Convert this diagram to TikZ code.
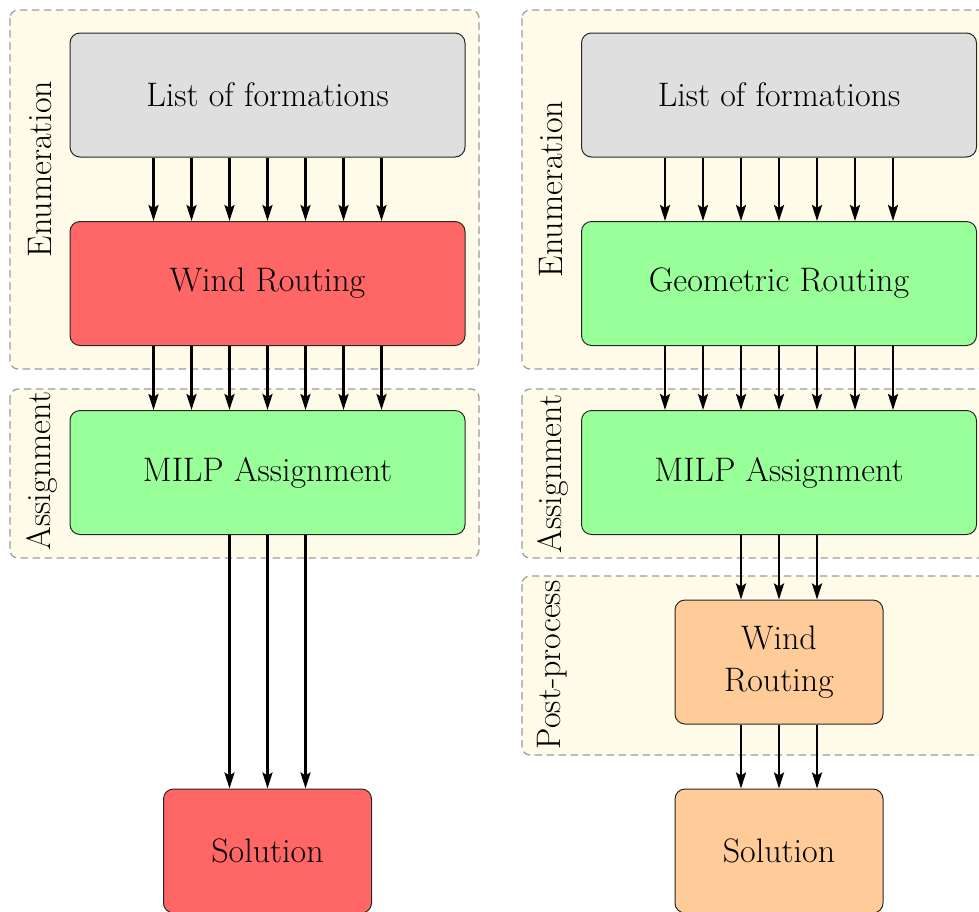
\documentclass[tikz,border=0pt]{standalone}
\usetikzlibrary{arrows.meta}
\definecolor{grpbg}{RGB}{255,251,233}
\definecolor{grpline}{RGB}{155,155,155}
\begin{document}
\begin{tikzpicture}[x=0.5pt,y=-0.5pt,
  every node/.style={font=\fontsize{17}{21}\selectfont},
  box/.style={draw=black!85,line width=0.5pt,rounded corners=5pt,inner sep=0pt,
    minimum width=197.5pt,minimum height=62pt,align=center},
  smallbox/.style={box,minimum width=104pt},
  grp/.style={draw=grpline,fill=grpbg,dash pattern=on 3.75pt off 2.25pt,line width=0.6pt,rounded corners=4pt},
  grplabel/.style={rotate=90,anchor=base,inner sep=0pt},
  flow/.style={line width=1.35pt,-{Stealth[length=8pt,width=5pt,inset=1.5pt]}}]
\path[use as bounding box,clip] (0,0) rectangle (979,911);
% groups
\draw[grp] (10,10) rectangle (479,369);
\draw[grp] (10,389) rectangle (479,558);
\draw[grp] (522,10) rectangle (991,369);
\draw[grp] (522,389) rectangle (991,558);
\draw[grp] (522,576) rectangle (991,755);
\node[grplabel] (lenum) at (51,169) {Enumeration};
\node[grplabel] (lassign) at (50,471) {Assignment};
\node[grplabel] (renum) at (562,189) {Enumeration};
\node[grplabel] (rassign) at (561,474) {Assignment};
\node[grplabel] (rpost) at (560,665) {Post-process};
% left column
\node[box,fill=gray!25] (list) at (267.5,95) {List of formations};
\node[box,fill=red!60] (wind) at (267.5,283.5) {Wind Routing};
\node[box,fill=green!40] (milp) at (267.5,472.5) {MILP Assignment};
\node[smallbox,fill=red!60] (sol) at (267.5,851) {Solution};
% right column
\node[box,fill=gray!25] (list2) at (779,95) {List of formations};
\node[box,fill=green!40] (geo) at (779,283.5) {Geometric Routing};
\node[box,fill=green!40] (milp2) at (779,472.5) {MILP Assignment};
\node[smallbox,fill=orange!40] (wind2) at (779,662) {Wind\\Routing};
\node[smallbox,fill=orange!40] (sol2) at (779,851) {Solution};
% arrows
\foreach \d in {-57,-38,-19,0,19,38,57}{
  \draw[flow] ([xshift=\d pt]list.south) -- ([xshift=\d pt]wind.north);
  \draw[flow] ([xshift=\d pt]wind.south) -- ([xshift=\d pt]milp.north);
  \draw[flow] ([xshift=\d pt]list2.south) -- ([xshift=\d pt]geo.north);
  \draw[flow] ([xshift=\d pt]geo.south) -- ([xshift=\d pt]milp2.north);
}
\foreach \d in {-19,0,19}{
  \draw[flow] ([xshift=\d pt]milp.south) -- ([xshift=\d pt]sol.north);
  \draw[flow] ([xshift=\d pt]milp2.south) -- ([xshift=\d pt]wind2.north);
  \draw[flow] ([xshift=\d pt]wind2.south) -- ([xshift=\d pt]sol2.north);
}
\end{tikzpicture}
\end{document}
